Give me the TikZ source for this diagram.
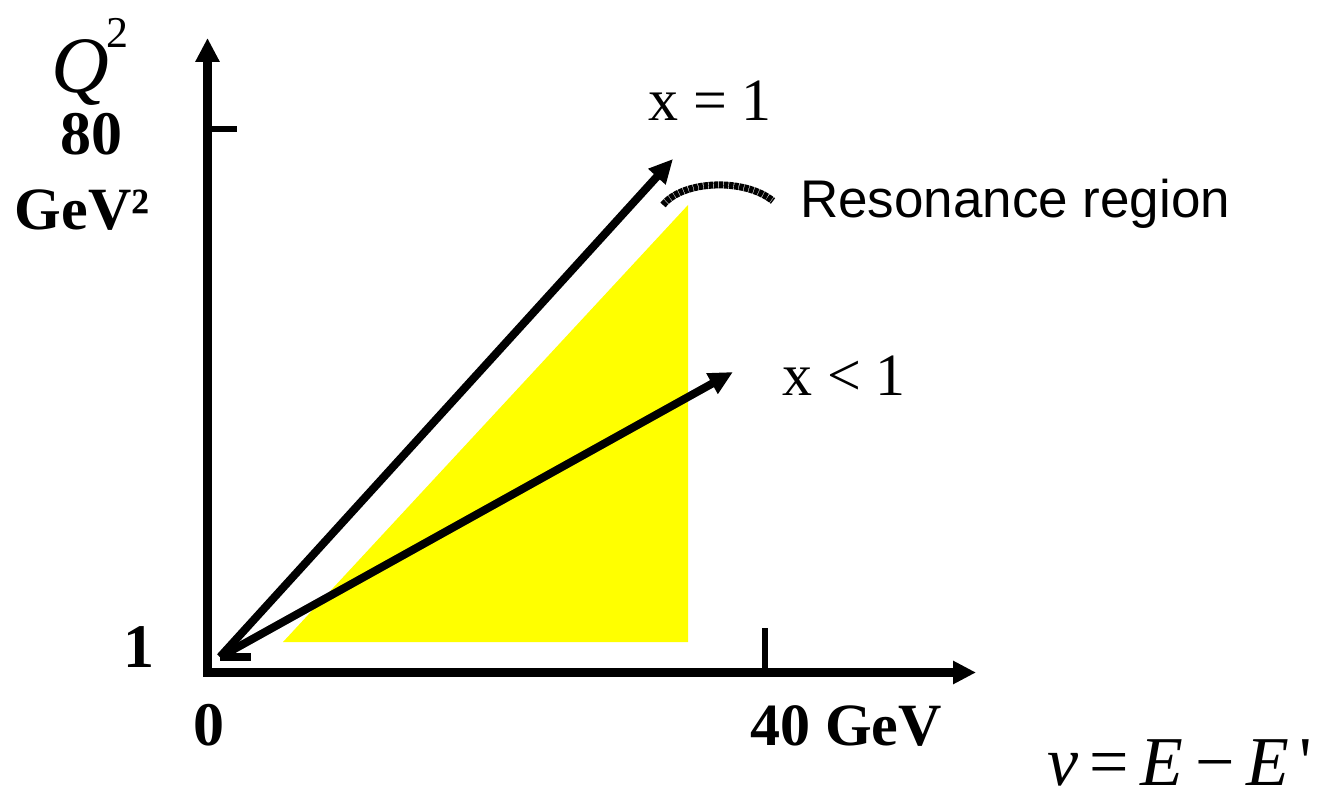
\documentclass[tikz,border=0pt]{standalone}
\usepackage{fontspec}
\setmainfont{Liberation Serif}
\newfontfamily\arialfont{Liberation Sans}
\usetikzlibrary{arrows.meta}
\definecolor{hiyellow}{RGB}{255,255,0}
\begin{document}
\begin{tikzpicture}[x=0.5pt,y=-0.5pt,
  axisline/.style={line width=4.5pt, line join=miter},
  tickline/.style={line width=3pt},
  vecline/.style={line width=4pt, -{Triangle[length=12pt,width=11pt]}},
  txt/.style={inner sep=0pt, outer sep=0pt},
  boldlbl/.style={txt, font=\fontsize{31}{31}\selectfont\bfseries},
  serlbl/.style={txt, font=\fontsize{30}{30}\selectfont},
]
\useasboundingbox (0,0) rectangle (1335,791);
% region
\fill[hiyellow] (283,642) -- (688,642) -- (688,205) -- cycle;
% axes
\coordinate (ytip) at (207.5,38);
\coordinate (corner) at (207.5,672.5);
\coordinate (xtip) at (976,672.5);
\draw[axisline, {Triangle[length=12pt,width=11.5pt]}-{Triangle[length=11.5pt,width=11pt]}] (ytip) -- (corner) -- (xtip);
% ticks
\coordinate (yt1) at (207.5,129);
\coordinate (yt2) at (237,129);
\draw[tickline] (yt1) -- (yt2);
\coordinate (xt1) at (765,628);
\coordinate (xt2) at (765,672.5);
\draw[tickline] (xt1) -- (xt2);
% vectors
\coordinate (o) at (220,657);
\coordinate (stub) at (251,657);
\coordinate (t1) at (673,159);
\coordinate (t2) at (733,372);
\draw[line width=4pt] (o) -- (stub);
\draw[vecline] (o) -- (t1);
\draw[vecline] (o) -- (t2);
% resonance curve
\coordinate (ra) at (663,205);
\coordinate (rb) at (773,201);
\draw[line width=3.5pt, dash pattern=on 2.2pt off 0.35pt] (ra) .. controls (683,180) and (745,178) .. (rb);
% labels
\node[txt, anchor=base, font=\fontsize{40}{40}\selectfont\itshape] (q) at (80,93) {Q};
\node[txt, anchor=base west, font=\fontsize{22}{22}\selectfont] (q2) at (106,48) {2};
\node[boldlbl, anchor=base] (n80) at (92,155) {80};
\node[txt, anchor=base west, font=\fontsize{30}{30}\selectfont\bfseries] (gev) at (15,230) {GeV²};
\node[boldlbl, anchor=base] (n1) at (139,668) {1};
\node[boldlbl, anchor=base] (n0) at (209,745) {0};
\node[txt, anchor=base west, font=\fontsize{30}{30}\selectfont\bfseries] (n40) at (750,745) {40 GeV};
\node[serlbl, anchor=base west] (xeq) at (648,121) {x = 1};
\node[serlbl, anchor=base west] (xlt) at (782,396) {x < 1};
\node[txt, anchor=base west, font=\fontsize{26.5}{26.5}\selectfont\arialfont] (res) at (800,218) {Resonance region};
\node[txt, anchor=base west, font=\fontsize{35}{35}\selectfont] (nu) at (1047,785) {{\itshape ν}\,=\,{\itshape E}\,−\,{\itshape E}\hspace{5pt}\textquotesingle};
\end{tikzpicture}
\end{document}
